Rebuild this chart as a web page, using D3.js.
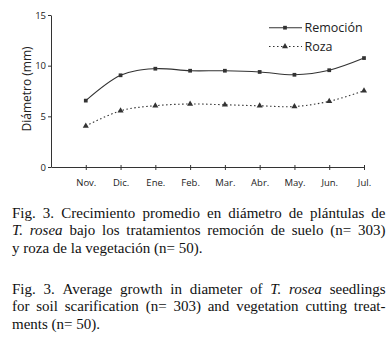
<!DOCTYPE html>
<html>
<head>
<meta charset="utf-8">
<script src="https://cdn.jsdelivr.net/npm/d3@7"></script>
<style>
  body { margin: 0; background: #fff; }
  svg { display: block; }
</style>
</head>
<body>
<div id="chart"></div>
<script>
const WIDTH = 391;
const HEIGHT = 344;

const months = ['Nov.', 'Dic.', 'Ene.', 'Feb.', 'Mar.', 'Abr.', 'May.', 'Jun.', 'Jul.'];
const remocion = [6.55, 9.05, 9.7, 9.5, 9.5, 9.38, 9.1, 9.55, 10.75];
const roza = [4.05, 5.55, 6.05, 6.22, 6.14, 6.04, 5.97, 6.48, 7.52];
const yTicks = [0, 5, 10, 15];
const seriesNames = ['Remoción', 'Roza'];

const captionEs = [
  [{ t: 'Fig. 3. Crecimiento promedio en diámetro de plántulas de' }],
  [{ t: 'T. rosea', it: true }, { t: ' bajo los tratamientos remoción de suelo (n= 303)' }],
  [{ t: 'y roza de la vegetación (n= 50).' }],
];
const captionEn = [
  [{ t: 'Fig. 3. Average growth in diameter of ' }, { t: 'T. rosea', it: true }, { t: ' seedlings' }],
  [{ t: 'for soil scarification (n= 303) and vegetation cutting treat-' }],
  [{ t: 'ments (n= 50).' }],
];

const ink = '#333';
const sans = '"Open Sans", "DejaVu Sans", sans-serif';
const serif = '"Liberation Serif", "Times New Roman", serif';

const svg = d3.select('#chart')
  .append('svg')
  .attr('width', WIDTH)
  .attr('height', HEIGHT);

// scales: one empty step before Nov.
const x = d3.scaleLinear().domain([-1, months.length - 1]).range([51, 364]);
const y = d3.scaleLinear().domain([0, 15]).range([167, 15]);

// axes
const gx = svg.append('g')
  .attr('transform', `translate(0, ${y(0)})`)
  .call(d3.axisBottom(x)
    .tickValues(d3.range(months.length))
    .tickFormat((i) => months[i])
    .tickSize(3)
    .tickSizeOuter(0)
    .tickPadding(9));
gx.selectAll('.tick line').attr('y1', -2);

const gy = svg.append('g')
  .attr('transform', `translate(${x(-1)}, 0)`)
  .call(d3.axisLeft(y).tickValues(yTicks).tickSize(3).tickSizeOuter(0).tickPadding(2));

svg.selectAll('.domain, .tick line').attr('stroke', ink).attr('stroke-width', 1);
svg.selectAll('.tick text')
  .attr('fill', '#222')
  .style('font-family', sans)
  .style('font-size', '9.5px');
gy.selectAll('.tick text').attr('dy', '0.34em');

svg.append('text')
  .attr('transform', `translate(31, ${y(7.7)}) rotate(-90)`)
  .attr('text-anchor', 'middle')
  .attr('fill', '#222')
  .style('font-family', sans)
  .style('font-size', '12px')
  .text('Diámetro (mm)');

// lines
const line = d3.line()
  .x((d, i) => x(i))
  .y((d) => y(d))
  .curve(d3.curveCardinal.tension(0));

svg.append('path')
  .datum(remocion)
  .attr('fill', 'none')
  .attr('stroke', ink)
  .attr('stroke-width', 1.1)
  .attr('d', line);

svg.append('path')
  .datum(roza)
  .attr('fill', 'none')
  .attr('stroke', ink)
  .attr('stroke-width', 1.1)
  .attr('stroke-dasharray', '1.5,2.5')
  .attr('d', line);

const square = d3.symbol().type(d3.symbolSquare).size(14);
const triangle = d3.symbol().type(d3.symbolTriangle).size(16);

svg.append('g').selectAll('path')
  .data(remocion)
  .join('path')
  .attr('transform', (d, i) => `translate(${x(i)}, ${y(d)})`)
  .attr('d', square)
  .attr('fill', ink);

svg.append('g').selectAll('path')
  .data(roza)
  .join('path')
  .attr('transform', (d, i) => `translate(${x(i)}, ${y(d)})`)
  .attr('d', triangle)
  .attr('fill', ink);

// legend
const legend = svg.append('g').attr('transform', 'translate(269, 0)');
[27.7, 46.5].forEach((ly, k) => {
  legend.append('line')
    .attr('x1', 0).attr('x2', 33)
    .attr('y1', ly).attr('y2', ly)
    .attr('stroke', ink)
    .attr('stroke-width', 1.1)
    .attr('stroke-dasharray', k === 1 ? '1.5,2.5' : null);
  legend.append('path')
    .attr('transform', `translate(16, ${ly})`)
    .attr('d', k === 0 ? square : triangle)
    .attr('fill', ink);
  legend.append('text')
    .attr('x', 35.5)
    .attr('y', ly + 4.5)
    .attr('fill', '#222')
    .style('font-family', sans)
    .style('font-size', '12.5px')
    .text(seriesNames[k]);
});

// caption, justified like the printed page
const capLeft = 12;
const capRight = 385.5;

function captionBlock(lines, baseline) {
  lines.forEach((segs, li) => {
    const justify = li < lines.length - 1;
    const words = [];
    segs.forEach((s) => {
      s.t.split(' ').forEach((w, wi) => {
        if (wi > 0) words.push(null);
        if (w) words.push({ t: w, it: s.it });
      });
    });
    // collapse to word list + gap flags
    const items = words.filter((w) => w !== null);
    const g = svg.append('g');
    const widths = items.map((w) => {
      const t = g.append('text')
        .style('font-family', serif)
        .style('font-size', '15px')
        .style('font-style', w.it ? 'italic' : 'normal')
        .attr('fill', '#111')
        .attr('y', baseline + li * 17.6)
        .text(w.t);
      w.node = t;
      return t.node().getComputedTextLength();
    });
    const total = d3.sum(widths);
    const space = justify
      ? (capRight - capLeft - total) / (items.length - 1)
      : 3.75;
    let cx = capLeft;
    items.forEach((w, i) => {
      w.node.attr('x', cx);
      cx += widths[i] + space;
    });
  });
}

captionBlock(captionEs, 217.5);
captionBlock(captionEn, 293.5);
</script>
</body>
</html>
